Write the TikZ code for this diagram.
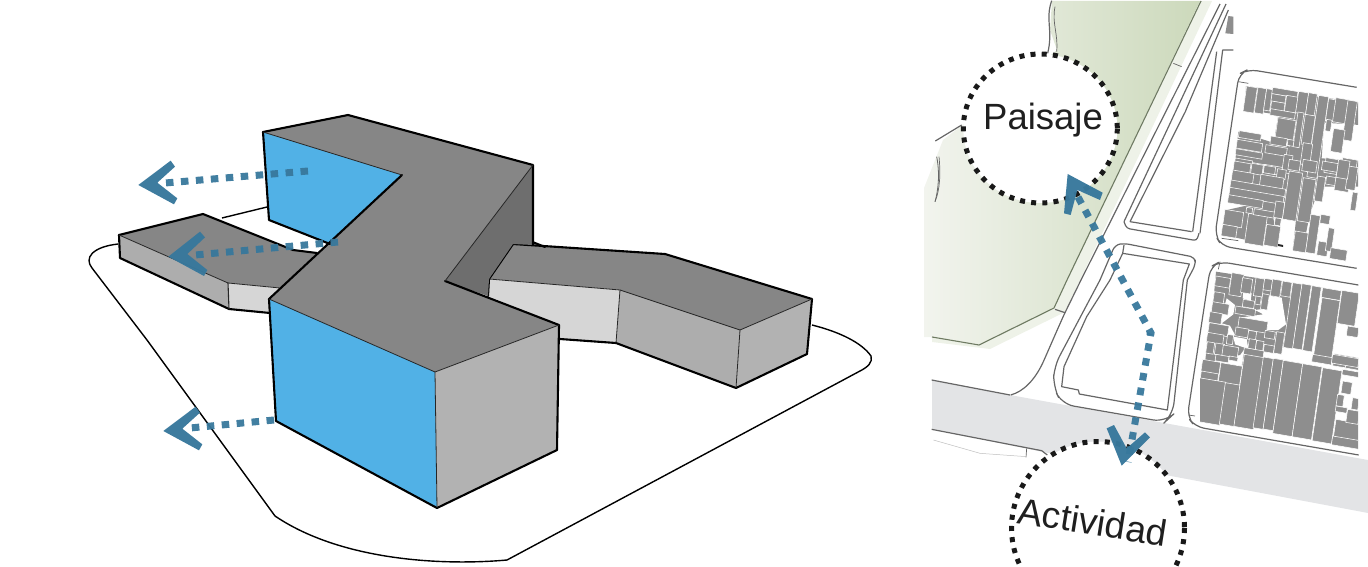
\documentclass[tikz,border=0pt]{standalone}
\usepackage{fontspec}
\setmainfont{Liberation Sans}
\definecolor{topc}{HTML}{868686}
\definecolor{sidec}{HTML}{ADADAD}
\definecolor{endc}{HTML}{B2B2B2}
\definecolor{lightc}{HTML}{D6D6D6}
\definecolor{bluec}{HTML}{51B1E6}
\definecolor{darkc}{HTML}{6E6E6E}
\definecolor{arrowc}{HTML}{38789C}
\definecolor{lotc}{HTML}{8E8E8E}
\definecolor{bandc}{HTML}{E3E4E6}
\definecolor{linec}{HTML}{666666}
\definecolor{paleg}{HTML}{EEF2E8}
\definecolor{greenA}{HTML}{F2F4EE}
\definecolor{greenB}{HTML}{D4DFC6}
\definecolor{greenC}{HTML}{CCD9BB}
\definecolor{greenE}{HTML}{6E7A62}
\tikzset{
  heavy/.style={draw=black,line width=2.1pt,line join=round,line cap=round},
  thinl/.style={draw=black!85,line width=.8pt,line cap=round},
  site/.style={draw=black,line width=1.4pt,line join=round},
  dots/.style={draw=arrowc,opacity=.95,line width=7pt,dash pattern=on 7.5pt off 7.5pt},
  head/.style={fill=arrowc,opacity=.97},
  road/.style={draw=linec,line width=1.2pt,line join=round},
  ring/.style={draw=black!90,fill=white,line width=5pt,dash pattern=on 5pt off 6.2pt},
  zoomA/.style={shift={(80,100)},scale=1/3},
  zoomB/.style={shift={(920,0)},scale=1/3},
  zoomC/.style={shift={(920,280)},scale=1/3},
}
\newcommand\lot[4]{\fill[lotc,draw=white,line width=.55pt] ({#1-2},{#2-2}) -- ++({#3+4},{.17*(#3+4)}) -- ++({-.145*(#4+4)},{#4+4}) -- ++({-#3-4},{-.17*(#3+4)}) -- cycle;}
\begin{document}
\begin{tikzpicture}[x=1pt,y=-1pt]
\useasboundingbox (0,0) rectangle (1368,567);
\clip (0,0) rectangle (1368,567);
% ---- site outline
\draw[site] (812,325) .. controls (840,332) and (862,343) .. (871,356) .. controls (873,362) and (868,367) .. (860,371)
  -- (507,560) .. controls (440,566) and (340,560) .. (275,516) -- (147,340) -- (92,268)
  .. controls (84,258) and (92,247) .. (118,244);
\draw[site] (222,218) -- (267,207);
% ---- left wing
\path[fill=topc] (119,235) -- (203,214) -- (293,250) -- (317,253) -- (280,288) -- (228,283) -- cycle;
\path[fill=sidec] (119,235) -- (228,283) -- (229,309) -- (120,258) -- cycle;
\path[fill=lightc] (228,283) -- (280,288) -- (269,299) -- (270,313) -- (229,309) -- cycle;
\draw[heavy] (119,235) -- (203,214) -- (293,250) -- (317,253);
\draw[heavy] (119,235) -- (120,258) -- (229,309) -- (270,313);
\draw[thinl] (119,235) -- (228,283) -- (280,288);
\draw[thinl,line width=1.1pt] (228,283) -- (229,309);
% ---- right wing
\path[fill=topc] (513,244) -- (665,254) -- (812,299) -- (740,330) -- (620,290) -- (489,279) -- cycle;
\path[fill=lightc] (489,279) -- (620,290) -- (616,343) -- (560,339) -- (559,325) -- (488,296) -- cycle;
\path[fill=sidec] (620,290) -- (740,330) -- (736,388) -- (616,343) -- cycle;
\path[fill=endc] (740,330) -- (812,299) -- (807,354) -- (736,388) -- cycle;
\draw[heavy] (489,279) -- (513,244) -- (665,254) -- (812,299) -- (807,354) -- (736,388) -- (616,343) -- (560,339);
\draw[heavy] (489,279) -- (488,296);
\draw[heavy] (530,241) -- (545,247);
\draw[thinl] (489,279) -- (620,290) -- (740,330) -- (812,299);
\draw[thinl] (620,290) -- (616,343);
\draw[thinl] (740,330) -- (736,388);
% ---- main block
\path[fill=darkc] (533,165) -- (533,245) -- (513,244) -- (489,279) -- (488,296) -- (445,281) -- cycle;
\path[fill=bluec] (263,132) -- (402,175) -- (340,240) -- (330,244) -- (269,220) -- cycle;
\path[fill=topc] (263,132) -- (348,115) -- (533,165) -- (445,281) -- (559,325) -- (435,372) -- (269,299) -- (402,175) -- cycle;
\path[fill=bluec] (269,299) -- (435,372) -- (437,508) -- (276,421) -- cycle;
\path[fill=endc] (435,372) -- (559,325) -- (557,450) -- (437,508) -- cycle;
\draw[heavy] (263,132) -- (348,115) -- (533,165) -- (533,245);
\draw[heavy] (263,132) -- (269,220) -- (330,244);
\draw[heavy] (402,175) -- (269,299) -- (276,421) -- (437,508) -- (557,450) -- (559,325) -- (445,281);
\draw[thinl] (263,132) -- (402,175);
\draw[thinl] (533,165) -- (445,281);
\draw[thinl] (269,299) -- (435,372) -- (559,325);
\draw[thinl] (435,372) -- (437,508);
% ---- left arrows
\draw[dots] (308,171) -- (165,183);
\begin{scope}[zoomA]
\fill[head] (175,255) -- (272,182) -- (285,200) -- (232,248) -- (292,295) -- (282,313) -- cycle;
\end{scope}
\draw[dots] (338,242) -- (195,255);
\begin{scope}[zoomA]
\fill[head] (265,470) -- (360,395) -- (375,412) -- (322,462) -- (382,510) -- (372,528) -- cycle;
\end{scope}
\draw[dots] (274,420) -- (190,428);
\begin{scope}[shift={(25,246)}]
\begin{scope}[zoomA]
\fill[head] (175,255) -- (272,182) -- (285,200) -- (232,248) -- (292,295) -- (282,313) -- cycle;
\end{scope}
\end{scope}
% ---- map: road band
\fill[bandc] (932,380) -- (1010,395) -- (1368,460) -- (1368,513) -- (1043,452) -- (932,429) -- cycle;
% ---- map: green
\fill[paleg] (1200,1) -- (1212,1) -- (1065,312) -- (990,349) -- (932,342) -- (932,337) -- (1054,308) -- cycle;
\shade[left color=greenA,middle color=greenB,right color=greenC]
  (1052,1) -- (1200,1) -- (1067,280) -- (1054,308) -- (979,345) -- (932,337) -- (924,337) -- (924,188) -- (943,140) -- (961,126) -- (1057,50) -- (1050,30) -- cycle;
\draw[draw=greenE,line width=1.1pt] (1201,1) -- (1067,280) -- (1054,308) -- (979,345) -- (932,337);
\begin{scope}[zoomB]
\draw[road,line width=.7pt] (760,190) -- (785,200);
\draw[road] (395,2) .. controls (375,60) and (400,90) .. (383,160);
\draw[road,line width=.7pt] (405,20) .. controls (395,70) and (415,100) .. (410,155);
\draw[road] (46,423) -- (125,375);
\draw[road,line width=.8pt] (50,470) .. controls (60,520) and (55,570) .. (45,605);
\draw[road,line width=.7pt] (57,470) .. controls (62,520) and (60,570) .. (45,605);
% long road line upper part
\draw[road] (900,12) -- (483,840);
\draw[road] (918,12) -- (612,665);
\draw[road,rounded corners=3pt] (612,665) -- (620,685) -- (830,722) -- (837,700);
\draw[road] (630,665) -- (815,695);
\draw[road] (925,30) -- (800,325) -- (796,335) -- (630,665);
\draw[road] (840,700) -- (908,150) -- (940,150);
\draw[road] (818,695) -- (890,155);
\fill[lotc] (925,48) -- (940,50) -- (940,102) -- (916,100) -- cycle;
% block 3 top
\draw[road,rounded corners=5pt] (540,840) -- (585,735) -- (612,730) -- (826,772) -- (826,795) -- (802,840);
\draw[road] (612,735) -- (608,760) -- (808,792) -- (790,840);
\draw[road] (608,760) -- (570,840);
% big block 1
\draw[road,rounded corners=9pt] (1310,262) -- (985,208) -- (957,222) -- (885,705) -- (905,738) -- (1310,805);
\draw[road,line width=.7pt] (955,245) -- (985,250);
\draw[road,line width=.7pt] (905,715) -- (955,722);
% big block 2 top
\draw[road,rounded corners=9pt] (1315,855) -- (900,785) -- (872,800) -- (865,840);
\draw[road,line width=.7pt] (900,785) -- (895,808);
\end{scope}
\begin{scope}[zoomC]
\draw[road] (35,300) -- (270,345);
\draw[road] (35,448) -- (365,512) -- (382,525);
\draw[road,line width=.7pt] (320,505) -- (318,532);
\draw[road,line width=.5pt,draw=black!25] (40,480) -- (180,520) -- (320,530);
\draw[road] (405,88) -- (435,98);
% long road line, lower curved part
\draw[road] (483,0) -- (435,98) .. controls (420,130) and (390,200) .. (370,245) .. controls (345,300) and (310,335) .. (272,345);
% block 3
\draw[road,rounded corners=12pt] (540,0) -- (402,260) -- (400,320) -- (425,372) -- (735,426) -- (758,405) -- (802,0);
\draw[road] (570,0) -- (500,110) -- (432,260) -- (425,320) -- (475,330) -- (478,342) -- (742,390) -- (790,0);
\fill[arrowc] (680,155) -- (700,165) -- (680,165) -- cycle;
% block 2 lower
\draw[road,rounded corners=9pt] (865,0) -- (802,410) -- (825,440) -- (1316,525);
\draw[road,line width=.7pt] (805,405) -- (825,408);
\end{scope}
% ---- lots
\begin{scope}
\clip (1200,60) rectangle (1358,520);
% solid masses of lots under the single lots
\begin{scope}[zoomB]
\fill[lotc] (1090,275) -- (1320,308) -- (1320,375) -- (1212,368) -- (1205,475) -- (1320,482) -- (1320,560) -- (1200,560) -- (1170,640) -- (1095,650) -- (1110,430) -- (1065,405) -- (1075,345) -- (1000,332) -- (975,320) -- (978,258) -- cycle;
\fill[lotc] (955,395) -- (1050,425) -- (1110,440) -- (1095,650) -- (1060,655) -- (1075,730) -- (980,720) -- (910,705) -- (920,630) -- (1010,610) -- (930,560) -- (945,490) -- cycle;
\fill[lotc] (1130,640) -- (1170,640) -- (1150,740) -- (1120,735) -- cycle;
\end{scope}
\begin{scope}[shift={(1180,255)},scale=1/3]
\fill[lotc] (108,50) -- (335,85) -- (320,270) -- (290,290) -- (250,270) -- (195,280) -- (180,300) -- (75,325) -- (85,230) -- (100,140) -- cycle;
\fill[white] (190,110) -- (215,115) -- (212,138) -- (188,130) -- cycle;
\fill[white] (268,122) -- (305,128) -- (318,208) -- (295,225) -- (250,225) -- (175,215) -- (180,188) -- (250,178) -- (225,165) -- (262,160) -- cycle;
\fill[white] (140,130) -- (165,150) -- (160,178) -- (125,205) -- (150,212) -- (165,240) -- (135,240) -- (118,205) -- cycle;
\fill[white] (160,245) -- (200,252) -- (205,282) -- (165,268) -- cycle;
\end{scope}
\begin{scope}[shift={(1210,60)},scale=1/3]
\lot{112}{80}{28}{72} \lot{146}{84}{22}{72} \lot{172}{88}{14}{60}
\lot{190}{84}{72}{15} \lot{188}{103}{38}{18} \lot{187}{125}{36}{22} \lot{232}{108}{30}{44}
\lot{184}{148}{70}{15} \lot{268}{96}{26}{60} \lot{298}{100}{22}{62} \lot{206}{175}{50}{55}
\lot{266}{158}{14}{100} \lot{288}{165}{26}{85} \lot{328}{108}{26}{240} \lot{358}{118}{20}{62}
\lot{380}{115}{36}{68} \lot{416}{122}{24}{115} \lot{373}{207}{30}{65} \lot{90}{214}{62}{16}
\lot{84}{240}{72}{22} \lot{80}{268}{76}{14} \lot{185}{230}{45}{20} \lot{170}{256}{60}{20}
\lot{236}{240}{14}{14} \lot{282}{250}{24}{60} \lot{352}{180}{12}{30}
\lot{78}{296}{48}{34} \lot{130}{310}{30}{20} \lot{165}{315}{50}{20} \lot{225}{285}{22}{50}
\lot{400}{295}{40}{40} \lot{350}{295}{40}{40}
\end{scope}
\begin{scope}[shift={(1210,160)},scale=1/3]
\lot{75}{5}{46}{28} \lot{128}{12}{30}{26} \lot{165}{18}{30}{18} \lot{205}{28}{22}{25}
\lot{70}{32}{60}{30} \lot{155}{45}{65}{30} \lot{65}{62}{160}{20} \lot{62}{84}{158}{20} \lot{58}{106}{100}{20}
\lot{240}{35}{36}{140} \lot{282}{55}{34}{125} \lot{325}{50}{20}{70} \lot{352}{50}{28}{20}
\lot{47}{150}{52}{42} \lot{40}{195}{40}{30} \lot{118}{162}{52}{85} \lot{172}{195}{38}{58}
\lot{112}{144}{14}{12} \lot{135}{148}{60}{14} \lot{198}{175}{14}{18} \lot{200}{125}{22}{45}
\lot{258}{215}{35}{55} \lot{305}{165}{24}{110} \lot{328}{245}{26}{38} \lot{358}{205}{14}{65}
\lot{365}{265}{45}{28} \lot{382}{38}{38}{50} \lot{418}{20}{24}{65} \lot{388}{0}{30}{50} \lot{340}{5}{42}{22}
\lot{335}{165}{24}{22} \lot{430}{98}{12}{50} \lot{282}{0}{38}{30} \lot{240}{0}{30}{26}
\end{scope}
\begin{scope}[shift={(1180,255)},scale=1/3]
\lot{110}{65}{40}{25} \lot{158}{55}{32}{62} \lot{190}{70}{26}{40} \lot{230}{70}{22}{50}
\lot{256}{72}{20}{30} \lot{280}{74}{24}{46} \lot{310}{80}{24}{40} \lot{340}{85}{24}{190}
\lot{368}{88}{24}{190} \lot{398}{94}{24}{190} \lot{430}{100}{52}{25} \lot{428}{130}{50}{185}
\lot{488}{108}{48}{95} \lot{105}{112}{27}{28} \lot{100}{142}{46}{28} \lot{92}{172}{33}{28}
\lot{90}{205}{55}{28} \lot{85}{234}{45}{26} \lot{170}{155}{55}{18} \lot{180}{188}{82}{30}
\lot{170}{218}{35}{22} \lot{208}{228}{20}{22} \lot{258}{228}{26}{18} \lot{292}{232}{20}{60}
\lot{210}{253}{18}{25} \lot{232}{258}{18}{25} \lot{255}{270}{26}{18} \lot{195}{280}{55}{50}
\lot{252}{308}{28}{25} \lot{283}{312}{25}{25} \lot{312}{318}{50}{20} \lot{84}{262}{18}{30}
\lot{110}{266}{22}{30} \lot{132}{272}{42}{30} \lot{76}{320}{50}{12} \lot{505}{215}{30}{25}
\lot{465}{298}{68}{32} \lot{192}{135}{30}{18} \lot{145}{240}{14}{24} \lot{230}{125}{12}{20} \lot{250}{118}{16}{42}
\end{scope}
\begin{scope}[shift={(1180,355)},scale=1/3]
\lot{110}{0}{35}{15} \lot{70}{15}{50}{33} \lot{125}{25}{60}{55} \lot{66}{50}{48}{18}
\lot{58}{70}{78}{125} \lot{138}{85}{40}{120} \lot{195}{0}{55}{212} \lot{252}{8}{26}{208}
\lot{282}{12}{26}{208} \lot{312}{18}{54}{215} \lot{370}{28}{54}{215} \lot{430}{40}{54}{215}
\lot{470}{195}{70}{48} \lot{460}{245}{78}{22} \lot{490}{80}{25}{32} \lot{475}{120}{16}{30}
\lot{520}{130}{16}{30} \lot{470}{155}{30}{12} \lot{505}{165}{32}{35} \lot{490}{45}{48}{12}
\lot{500}{25}{36}{12} \lot{400}{0}{55}{18} \lot{460}{0}{75}{22} \lot{150}{5}{22}{8}
\end{scope}
\end{scope}
\fill[black!85] (1278,244) -- (1283,245) -- (1283,247) -- (1278,246) -- cycle;
% ---- circles
\draw[ring] (1040.3,128.5) ellipse [x radius=77,y radius=74.5];
\node[inner sep=0pt,font=\fontsize{36.5}{40}\selectfont,text=black!88] (paisaje) at (1043,120) {Paisaje};
\draw[ring] (1098,528) circle (86.5);
\node[inner sep=0pt,font=\fontsize{37}{40}\selectfont,text=black!88,rotate=-9] (actividad) at (1092.7,521.7) {Actividad};
% ---- map arrow
\draw[dots,line join=miter] (1078,197) -- (1151,333) -- (1128,462);
\begin{scope}[zoomB]
\fill[head] (443,522) -- (548,578) -- (540,600) -- (472,570) -- (452,645) -- (432,640) -- cycle;
\end{scope}
\begin{scope}[zoomC]
\fill[head] (605,557) -- (560,445) -- (582,435) -- (620,505) -- (675,457) -- (690,472) -- cycle;
\end{scope}
\end{tikzpicture}
\end{document}
